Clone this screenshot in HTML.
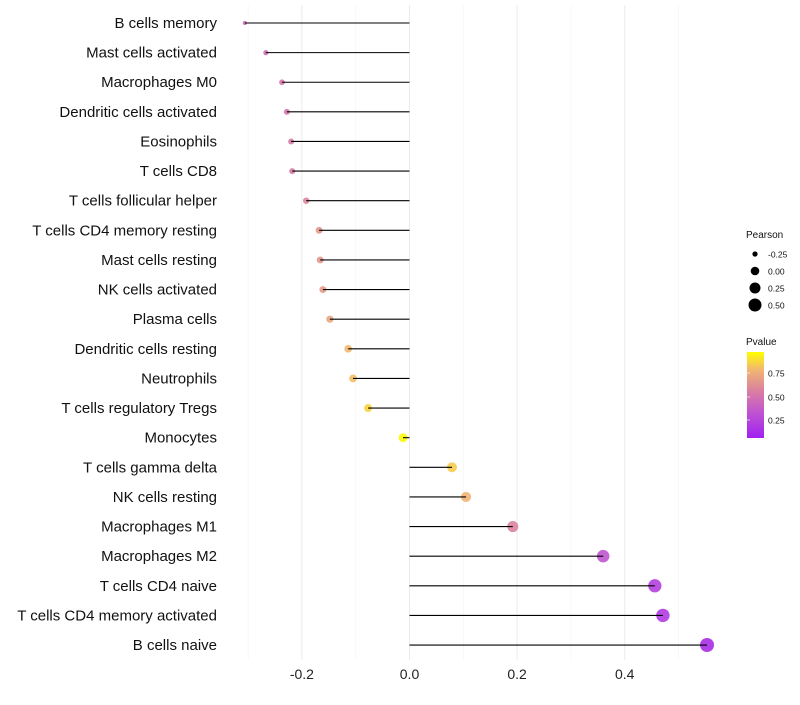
<!DOCTYPE html>
<html><head><meta charset="utf-8"><style>
body{margin:0;background:#fff;font-family:"Liberation Sans",sans-serif}
svg text{font-family:"Liberation Sans",sans-serif}
</style></head><body>
<svg id="chart" width="800" height="700">
<defs><linearGradient id="pg" x1="0" y1="1" x2="0" y2="0">
<stop offset="0" stop-color="#A020F0"/><stop offset="0.3" stop-color="#C055D0"/><stop offset="0.55" stop-color="#DA80A0"/><stop offset="0.8" stop-color="#F2B870"/><stop offset="1" stop-color="#FFFF00"/></linearGradient></defs>
<g id="grid"></g>
<g id="dots"></g>
<g id="marks"></g>
<g id="legend"></g>
</svg>
<script>
const categories=["B cells memory","Mast cells activated","Macrophages M0","Dendritic cells activated","Eosinophils","T cells CD8","T cells follicular helper","T cells CD4 memory resting","Mast cells resting","NK cells activated","Plasma cells","Dendritic cells resting","Neutrophils","T cells regulatory  Tregs","Monocytes","T cells gamma delta","NK cells resting","Macrophages M1","Macrophages M2","T cells CD4 naive","T cells CD4 memory activated","B cells naive"];
const pearson=[-0.306,-0.267,-0.237,-0.228,-0.220,-0.218,-0.192,-0.168,-0.166,-0.161,-0.148,-0.114,-0.105,-0.077,-0.012,0.079,0.105,0.192,0.360,0.456,0.471,0.553];
const pvalue=[0.42,0.45,0.5,0.5,0.52,0.52,0.58,0.65,0.65,0.67,0.72,0.8,0.82,0.88,0.98,0.86,0.78,0.56,0.3,0.18,0.15,0.08];
const xTicks=[-0.2,0,0.2,0.4];
const xTickLabels=["-0.2","0.0","0.2","0.4"];
const minorTicks=[-0.3,-0.1,0.1,0.3,0.5];
const NS="http://www.w3.org/2000/svg";
const x=v=>409.5+v*538;
const y=i=>23+i*29.62;
const rad=v=>Math.sqrt(Math.max(2,20.5+52*v));
function mk(t,a,p){const e=document.createElementNS(NS,t);for(const k in a)e.setAttribute(k,a[k]);p.appendChild(e);return e;}
function col(p){const st=[[0,[160,32,240]],[0.3,[192,85,208]],[0.55,[218,128,160]],[0.8,[242,184,112]],[1,[255,255,0]]];
for(let i=1;i<st.length;i++){if(p<=st[i][0]){const a=st[i-1],b=st[i],t=(p-a[0])/(b[0]-a[0]);return "rgb("+a[1].map((c,j)=>Math.round(c+(b[1][j]-c)*t)).join(",")+")";}}return "rgb(255,255,0)";}
const g=document.getElementById('grid'),m=document.getElementById('marks'),dg=document.getElementById('dots'),lg=document.getElementById('legend');
minorTicks.forEach(v=>{const l=mk('line',{x1:x(v),x2:x(v),y1:5,y2:660,stroke:'#f4f4f4','stroke-width':0.6},g);

});
xTicks.forEach((v,i)=>{const l=mk('line',{x1:x(v),x2:x(v),y1:5,y2:660,stroke:'#ebebeb','stroke-width':1},g);


const t=mk('text',{x:x(v),y:679,'text-anchor':'middle','font-size':14,fill:'#222'},g);t.textContent=xTickLabels[i];

});
categories.forEach((c,i)=>{
const t=mk('text',{x:217,y:y(i)+5,'text-anchor':'end','font-size':15,fill:'#111'},g);t.textContent=c;


const d=mk('circle',{cx:x(pearson[i]),cy:y(i),r:rad(pearson[i]),fill:col(pvalue[i]),'fill-opacity':0.9},dg);


const l=mk('line',{x1:x(0),x2:x(pearson[i]),y1:y(i),y2:y(i),stroke:'#000','stroke-width':1.1},m);

});
function T(x0,y0,s,fs,nm){const t=mk('text',{x:x0,y:y0,'font-size':fs,fill:'#111'},lg);t.textContent=s;}
T(746,238,'Pearson',10,'size-legend-title');
const sizeKeys=[-0.25,0,0.25,0.5],sizeLabels=["-0.25","0.00","0.25","0.50"];
sizeKeys.forEach((v,i)=>{const cy=254+i*17;const c=mk('circle',{cx:755,cy:cy,r:rad(v)*0.95,fill:'#000'},lg);


T(768,cy+3.5,sizeLabels[i],8.5,'size-legend-label');});
T(746,345,'Pvalue',10,'color-legend-title');
const cb=mk('rect',{x:747,y:352,width:17,height:86,fill:'url(#pg)'},lg);


[[0.75,373],[0.5,397],[0.25,420]].forEach(([v,yy])=>{T(768,yy+3.5,v.toFixed(2),8.5,'colorbar-label');
const l=mk('line',{x1:747,x2:750,y1:yy,y2:yy,stroke:'#fff','stroke-width':0.6},lg);});
</script>
</body></html>
